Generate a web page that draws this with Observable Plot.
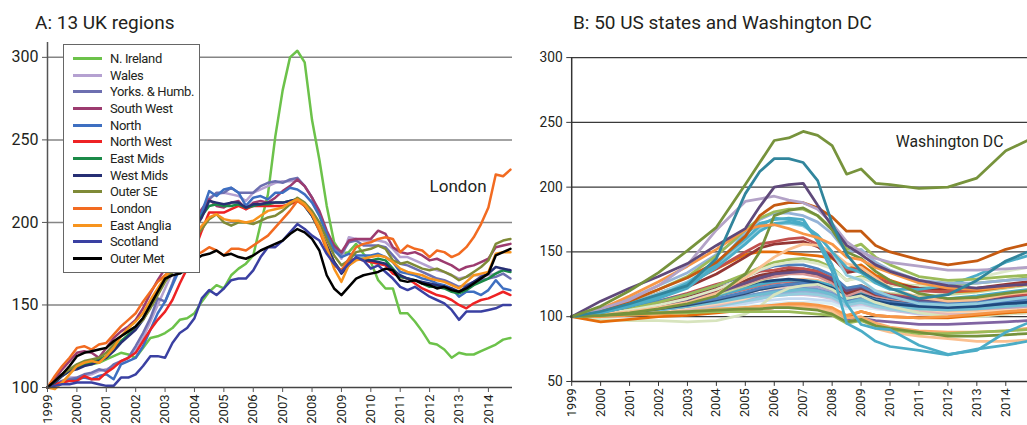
<!DOCTYPE html>
<html><head><meta charset="utf-8">
<script src="https://cdn.jsdelivr.net/npm/d3@7"></script>
<script src="https://cdn.jsdelivr.net/npm/@observablehq/plot@0.6"></script>
<style>
html,body{margin:0;padding:0;overflow:hidden;background:#fff;}
#wrap{position:relative;width:1027px;height:425px;overflow:hidden;font-family:Roboto,"DejaVu Sans",sans-serif;color:#231f20;}
.panel{position:absolute;top:0;}
.title{position:absolute;top:12px;font-size:19px;line-height:22px;white-space:nowrap;color:#231f20;}
#legend{position:absolute;left:63px;top:44px;width:137px;height:229px;border:1.5px solid #666;background:#fff;box-sizing:border-box;}
.li{position:absolute;left:0;height:16px;display:flex;align-items:center;white-space:nowrap;font-size:13px;letter-spacing:-0.35px;}
.sw{display:inline-block;width:29px;height:3px;margin-left:9px;margin-right:8px;}
</style></head>
<body><div id="wrap">
<div class="title" style="left:35px">A: 13 UK regions</div>
<div class="title" style="left:573px">B: 50 US states and Washington DC</div>
<div id="panelA" class="panel" style="left:0px"></div>
<div id="panelB" class="panel" style="left:520px"></div>
<div id="legend"></div>
</div>
<script>
// ---------- shared ----------
const yearTicks = [1999,2000,2001,2002,2003,2004,2005,2006,2007,2008,2009,2010,2011,2012,2013,2014];
const ticksA = [100,150,200,250,300];
const ticksB = [50,100,150,200,250,300];

// ---------- Panel A: 13 UK regions, quarterly 1999Q1-2014Q4 ----------
const ukRegions = ["N. Ireland","Wales","Yorks. & Humb.","South West","North","North West","East Mids","West Mids","Outer SE","London","East Anglia","Scotland","Outer Met"];
const ukColors = ["#6cc24a","#b5a1d1","#6d6fb0","#9c3b6f","#3e6fc1","#ee2224","#1b8a48","#262f74","#7f8a37","#f26b21","#f7941e","#3a40a2","#000000"];

const nIreland = [100,104,108,111, 113,114,114,115, 117,119,121,120, 118,124,130,131, 133,136,141,142, 145,152,158,162, 160,168,172,175, 180,199,217,252, 280,300,304,297, 262,238,210,188, 181,182,187,181, 176,165,160,160, 145,145,140,134, 127,126,123,118, 121,120,120,122, 124,126,129,130];
const wales = [100,102,104,106, 106,107,108,110, 111,113,115,118, 122,130,140,150, 160,170,180,190, 200,208,215,217, 218,217,216,213, 218,220,222,224, 225,225,226,222, 215,205,193,184, 178,191,190,189, 189,189,188,184, 179,179,177,175, 173,171,170,168, 166,167,168,168, 168,169,172,171];
const yorks = [100,102,104,105, 106,108,109,111, 110,114,116,118, 125,133,142,154, 152,163,175,188, 198,207,214,218, 218,221,218,218, 218,222,224,225, 224,226,227,222, 215,205,193,185, 181,188,189,186, 186,186,185,180, 175,174,172,170, 168,166,165,163, 161,162,164,165, 166,167,169,166];
const southWest = [100,105,111,116, 121,122,121,118, 124,130,134,137, 141,148,157,165, 172,178,186,194, 202,208,214,210, 209,212,213,208, 212,213,212,215, 219,222,226,222, 215,207,195,186, 182,189,190,190, 190,195,193,185, 182,181,182,180, 177,178,176,174, 171,173,174,176, 178,185,186,187];
const north = [100,102,103,104, 105,106,105,107, 108,105,114,116, 118,125,135,145, 152,162,172,183, 195,206,219,216, 220,221,218,210, 215,216,214,218, 218,221,220,217, 212,204,193,183, 179,181,180,180, 180,181,179,176, 170,169,168,166, 165,163,162,160, 155,158,158,156, 159,165,160,159];
const northWest = [100,102,103,104, 104,107,105,105, 109,112,116,118, 121,128,135,141, 146,153,163,172, 183,195,206,206, 206,208,210,208, 210,210,210,210, 210,211,213,211, 205,196,186,176, 170,177,178,177, 176,175,174,169, 167,166,163,160, 158,156,155,153, 150,148,151,153, 154,156,158,156];
const eastMids = [100,103,107,110, 112,114,115,117, 119,123,128,132, 136,142,150,158, 166,173,181,189, 197,204,210,211, 210,210,211,209, 210,211,211,212, 212,213,214,210, 204,195,185,176, 170,174,178,178, 177,178,177,172, 167,166,165,163, 161,161,160,158, 157,159,162,164, 166,169,171,170];
const westMids = [100,103,107,110, 111,113,114,116, 118,122,127,131, 135,141,149,158, 166,172,180,188, 196,203,213,212, 211,212,212,209, 211,211,212,212, 212,213,214,210, 204,196,186,176, 169,174,178,177, 177,176,175,171, 168,166,165,164, 163,162,161,160, 158,161,164,167, 169,173,172,171];
const outerSE = [100,104,108,111, 114,116,117,118, 121,126,131,134, 137,141,148,156, 164,170,175,183, 190,196,202,205, 200,198,200,200, 199,201,203,204, 207,211,215,212, 207,200,190,180, 174,177,182,183, 184,186,184,177, 175,176,174,172, 171,172,170,168, 165,167,170,173, 177,187,189,190];
const london = [100,107,113,118, 124,125,123,126, 127,132,137,141, 145,152,158,164, 168,172,175,178, 180,182,185,183, 180,184,184,183, 186,189,192,197, 202,207,213,210, 205,195,183,174, 171,178,185,187, 188,190,191,190, 182,186,184,183, 179,183,182,179, 181,185,191,199, 209,229,228,232];
const eastAnglia = [100,99,103,108, 113,115,116,115, 119,124,131,136, 140,145,153,160, 167,172,178,185, 192,198,203,205, 202,201,201,200, 201,204,207,208, 209,212,214,211, 205,197,185,172, 164,174,177,178, 179,180,179,176, 172,170,169,168, 166,165,164,162, 160,164,168,169, 170,181,182,182];
const scotland = [100,101,102,102, 103,103,103,102, 101,101,106,106, 108,113,119,119, 118,127,133,136, 142,154,159,156, 160,165,166,166, 171,179,185,185, 189,194,199,196, 192,189,181,175, 170,175,179,177, 172,174,170,166, 161,159,161,158, 155,153,151,147, 141,146,146,146, 147,148,150,150];
const outerMet = [100,104,108,113, 119,121,122,123, 124,128,131,134, 137,142,150,158, 166,168,169,172, 177,180,181,183, 180,181,179,178, 180,183,185,187, 189,193,196,194, 190,183,168,160, 156,161,166,168, 169,170,172,171, 165,164,165,163, 162,160,161,159, 158,160,163,166, 169,180,182,184];

const ukSeries = [nIreland,wales,yorks,southWest,north,northWest,eastMids,westMids,outerSE,london,eastAnglia,scotland,outerMet];
const ukQuarters = nIreland.map((_, i) => 1999 + i / 4);

// ---------- Panel B: 50 US states and Washington DC ----------
const usTimes = [1999,2000,2001,2002,2003,2004,2005,2005.5,2006,2006.5,2007,2007.5,2008,2008.5,2009,2009.5,2010,2011,2012,2013,2014,2014.75];
const usColors = ["#C6D9F1","#DBEEF4","#CCC1DA","#B9CDE5","#93CDDD","#95B3D7","#E6B9B8","#FCD5B5","#FAC090","#B3A2C7","#729ACA","#6FBDD1","#CD7371","#4BACC6","#2C4D75","#4F81BD","#1F497D","#C3D69B","#D99694","#A0413F","#8C3836","#C0504D","#664F83","#4F81BD","#D7E4BD","#8064A2","#E46C0A","#F79646","#F9AB6B","#FAC090","#9BBB59","#76923C","#9BBB59","#DDE8C8","#E46C0A","#943634","#C0504D","#FAC090","#93CDDD","#4BACC6","#4BACC6","#4BACC6","#95B3D7","#9BBB59","#76923C","#F79646","#C55A11","#B3A2C7","#5F497A","#31859C","#77933C"];
const usValues = [
[100,101,102,103,105,107,110,112,113,114,114,113,112,107,108,106,105,103,102,103,104,105],
[100,101,102,103,104,106,108,109,110,111,111,111,110,106,107,106,105,104,104,105,106,107],
[100,101,102,104,106,109,112,114,116,117,117,116,114,108,110,107,105,102,101,101,103,104],
[100,101,102,104,106,109,113,115,117,118,119,118,116,110,112,109,107,104,103,104,106,107],
[100,101,102,104,106,108,112,114,116,117,118,117,115,109,111,108,106,103,102,103,105,106],
[100,101,102,104,107,110,114,116,118,119,120,119,117,111,113,110,108,105,104,105,107,108],
[100,101,102,104,106,109,114,117,121,123,124,123,120,113,115,111,108,104,102,101,102,103],
[100,101,102,104,107,110,114,118,121,123,124,123,121,115,116,113,110,106,104,104,105,106],
[100,101,103,105,108,112,118,122,126,128,129,128,124,116,118,114,111,107,105,105,107,108],
[100,101,103,106,109,113,118,121,123,124,124,123,120,113,115,112,110,107,106,106,107,108],
[100,101,103,105,108,112,116,118,120,121,122,121,118,111,114,111,109,107,106,107,109,110],
[100,101,103,105,108,111,115,117,119,120,121,120,117,111,113,110,108,106,105,106,108,109],
[100,102,104,107,111,116,121,124,126,127,127,126,122,114,117,114,112,110,109,110,112,113],
[100,102,104,107,111,116,122,125,127,128,128,127,124,117,119,116,114,113,114,116,119,121],
[100,101,103,106,109,113,118,121,123,125,126,125,122,116,117,114,112,110,110,111,113,114],
[100,102,104,107,110,114,119,122,124,125,126,125,121,113,116,113,111,109,108,109,111,112],
[100,102,105,109,113,118,124,127,128,129,128,126,122,114,116,112,110,108,107,108,110,111],
[100,102,104,108,112,117,124,128,131,133,134,133,130,122,124,120,118,116,117,119,122,124],
[100,102,105,109,113,119,125,129,131,133,133,131,126,116,120,116,114,111,111,112,114,115],
[100,102,105,110,114,120,126,130,133,135,135,133,128,119,122,117,115,112,112,113,115,116],
[100,102,106,111,116,122,128,132,134,136,137,135,129,118,122,118,116,113,112,113,115,116],
[100,103,107,112,118,125,131,135,136,138,137,135,130,120,124,119,117,114,113,114,116,117],
[100,102,105,108,112,118,126,130,133,134,135,133,129,120,123,119,116,113,112,112,114,115],
[100,103,107,112,117,124,132,136,139,140,140,137,132,122,124,118,115,111,110,111,113,114],
[100,98,97,97,96,97,102,108,117,122,124,125,121,114,116,111,108,103,100,100,102,103],
[100,101,102,103,104,105,106,106,107,108,108,107,104,97,99,97,96,94,94,95,96,97],
[100,96,98,100,101,103,105,106,107,108,108,108,106,100,104,101,100,99,99,101,103,104],
[100,100,101,102,103,105,107,108,109,110,110,109,107,101,104,101,100,99,100,102,104,105],
[100,101,102,103,104,106,107,108,108,108,108,107,105,99,100,95,92,89,88,88,89,91],
[100,101,102,103,104,105,106,106,107,107,107,106,104,96,98,91,88,85,83,81,81,82],
[100,101,102,103,103,104,104,104,104,104,103,102,101,95,97,93,90,87,87,88,89,90],
[100,101,102,103,104,105,106,106,107,107,106,105,102,96,98,93,91,88,85,85,86,87],
[100,103,106,111,117,124,133,138,142,144,145,143,138,128,131,127,125,124,125,126,128,130],
[100,102,105,109,114,121,130,136,140,142,143,141,137,128,130,126,124,124,126,130,135,138],
[100,104,110,117,126,137,148,150,150,149,148,147,145,137,140,132,128,121,119,120,123,125],
[100,103,108,115,123,133,146,153,156,157,158,154,146,134,136,129,126,122,121,122,125,127],
[100,104,110,118,126,137,150,156,158,160,161,156,148,136,138,130,126,120,119,121,124,125],
[100,102,104,107,111,118,130,138,146,152,156,155,150,141,138,130,122,115,112,113,117,119],
[100,104,110,118,127,140,158,168,171,172,170,163,150,132,128,120,116,110,109,110,113,115],
[100,103,108,115,124,138,156,166,172,173,171,163,150,138,134,126,121,121,124,132,142,147],
[100,103,109,116,126,142,160,170,176,175,172,160,140,110,94,91,90,78,71,74,88,95],
[100,103,108,114,122,140,164,172,175,176,175,158,135,95,89,81,77,74,70.5,75,78,81],
[100,106,114,124,134,148,165,175,180,180,178,173,164,150,152,142,136,128,126,126,128,129],
[100,105,112,121,131,147,167,176,181,183,183,178,168,152,156,146,140,131,128,129,131,132],
[100,101,103,106,110,116,133,150,178,182,184,178,167,150,145,135,128,118,114,115,118,120],
[100,106,116,127,139,152,167,170,171,168,164,161,156,146,144,138,134,126,122,121,123,125],
[100,105,112,121,130,142,162,178,186,188,188,184,177,166,166,155,150,144,140,143,152,156],
[100,106,113,124,140,167,189,191,193,190,188,183,172,158,150,145,142,139,136,136,137,138],
[100,112,122,131,141,155,168,185,200,202,203,186,170,155,148,140,135,128,124,122,124,125],
[100,104,110,117,124,145,195,212,222,222,219,205,172,148,135,128,122,114,117,128,143,150],
[100,108,120,134,151,169,202,219,236,238,243,240,232,210,214,203,202,199,200,207,228,236]
];
const usNames = usValues.map((_, i) => i === usValues.length - 1 ? "Washington DC" : "State " + (i + 1));

// ---------- build tables ----------
const dataA = ukRegions.flatMap((name, j) => ukSeries[j].map((v, i) => ({name, t: ukQuarters[i], v})));
const dataB = usNames.flatMap((name, j) => usValues[j].map((v, i) => ({name, t: usTimes[i], v})));

const FONT = 'Roboto, "DejaVu Sans", sans-serif';

const chartA = Plot.plot({
  width: 515, height: 425,
  marginLeft: 47, marginRight: 3, marginTop: 42, marginBottom: 38,
  x: {domain: [1999, 2014.82], label: null},
  y: {domain: [100, 309], label: null},
  color: {domain: ukRegions, range: ukColors},
  style: {fontFamily: FONT, color: "#231f20", background: "transparent", overflow: "visible"},
  marks: [
    Plot.ruleY([150, 200, 250, 300], {stroke: "#858585", strokeWidth: 1.5}),
    Plot.line(dataA, {x: "t", y: "v", z: "name", stroke: "name", strokeWidth: 2.5, strokeLinejoin: "round"}),
    Plot.ruleX([1999], {stroke: "#555", strokeWidth: 1.5}),
    Plot.ruleY([100], {stroke: "#444", strokeWidth: 1.5}),
    Plot.axisY(ticksA, {tickSize: 5, tickPadding: 4, fontSize: 16, label: null, stroke: "#555"}),
    Plot.axisX(yearTicks, {tickSize: 5, tickPadding: 2, tickRotate: -90, fontSize: 13, label: null, tickFormat: d => String(d), stroke: "#555"}),
    Plot.text(["London"], {x: 2012.0, y: 222, text: d => d, textAnchor: "start", fontSize: 17, fill: "#231f20"})
  ]
});
document.getElementById("panelA").appendChild(chartA);

const chartB = Plot.plot({
  width: 515, height: 425,
  marginLeft: 52, marginRight: 0, marginTop: 58, marginBottom: 38,
  x: {domain: [1999, 2014.75], label: null},
  y: {domain: [50, 300], label: null},
  color: {domain: usNames, range: usColors},
  style: {fontFamily: FONT, color: "#231f20", background: "transparent", overflow: "visible"},
  marks: [
    Plot.ruleY([100, 150, 200, 250, 300], {stroke: "#3a3a3a", strokeWidth: 1.3}),
    Plot.line(dataB, {x: "t", y: "v", z: "name", stroke: "name", strokeWidth: 2.8, strokeLinejoin: "round", strokeLinecap: "round"}),
    Plot.ruleX([1999], {stroke: "#333", strokeWidth: 1.5}),
    Plot.ruleY([50], {stroke: "#333", strokeWidth: 1.5}),
    Plot.axisY(ticksB, {tickSize: 5, tickPadding: 4, fontSize: 14, label: null, stroke: "#333"}),
    Plot.axisX(yearTicks, {tickSize: 5, tickPadding: 2, tickRotate: -90, fontSize: 13, label: null, tickFormat: d => String(d), stroke: "#333"}),
    Plot.text(["Washington DC"], {x: 2010.2, y: 235, text: d => d, textAnchor: "start", fontSize: 16, fill: "#231f20"})
  ]
});
document.getElementById("panelB").appendChild(chartB);

// ---------- legend (panel A) ----------
const legend = document.getElementById("legend");
ukRegions.forEach((name, i) => {
  const row = document.createElement("div");
  row.className = "li";
  row.style.top = (5.5 + i * 16.65) + "px";
  const sw = document.createElement("span");
  sw.className = "sw";
  sw.style.background = ukColors[i];
  row.appendChild(sw);
  row.appendChild(document.createTextNode(name));
  legend.appendChild(row);
});
</script>
</body></html>
